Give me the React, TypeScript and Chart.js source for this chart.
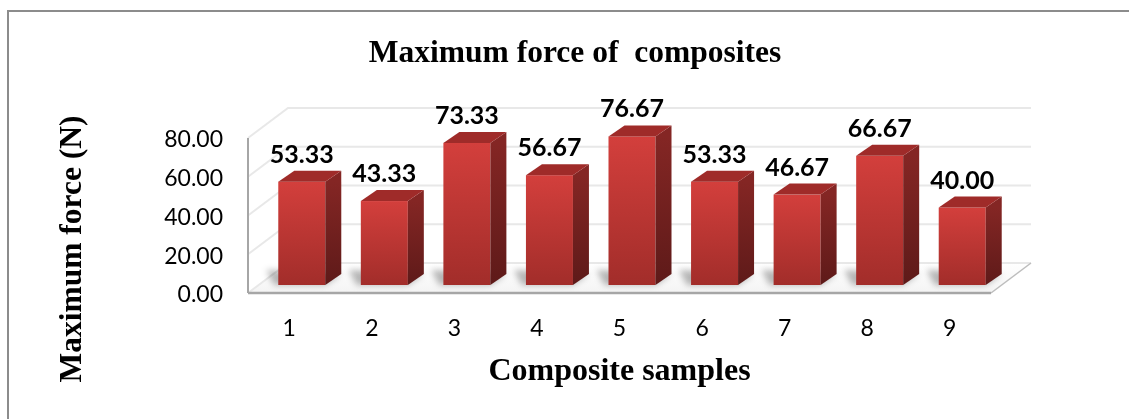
import React, { useEffect, useRef } from "react";
import { Chart, registerables } from "chart.js";

Chart.register(...registerables);

// ---- data ----
const categories = ["1", "2", "3", "4", "5", "6", "7", "8", "9"];
const maxForce = [53.33, 43.33, 73.33, 56.67, 76.67, 53.33, 46.67, 66.67, 40.0];
const yMin = 0;
const yMax = 80;
const yStep = 20;
const chartTitle = "Maximum force of  composites";
const xAxisTitle = "Composite samples";
const yAxisTitle = "Maximum force (N)";

// ---- 3D geometry (style) ----
const WALL_DX = 40;
const WALL_DY = -30;
const BAR_DX = 12.5;
const BAR_DY = -8;
const TOP_DX = 16;
const TOP_DY = -11;

const serif = '"Liberation Serif", "Times New Roman", serif';
const sans = 'Lato, "Open Sans", sans-serif';

const threeDPlugin = {
  id: "threeD",
  beforeDraw(chart: any) {
    const ctx = chart.ctx;
    ctx.save();
    ctx.fillStyle = "#ffffff";
    ctx.fillRect(0, 0, chart.width, chart.height);
    // outer frame (top and left edges)
    ctx.strokeStyle = "#8c8c8c";
    ctx.lineWidth = 2;
    ctx.beginPath();
    ctx.moveTo(8, chart.height);
    ctx.lineTo(8, 11);
    ctx.lineTo(chart.width, 11);
    ctx.stroke();
    ctx.restore();
  },
  beforeDatasetsDraw(chart: any) {
    const ctx = chart.ctx;
    const { left: L, right: R, top: T, bottom: B } = chart.chartArea;
    const ys = chart.scales.y;
    ctx.save();
    // floor
    ctx.beginPath();
    ctx.moveTo(L, B);
    ctx.lineTo(R, B);
    ctx.lineTo(R + WALL_DX, B + WALL_DY);
    ctx.lineTo(L + WALL_DX, B + WALL_DY);
    ctx.closePath();
    const fg = ctx.createLinearGradient(0, B + WALL_DY, 0, B);
    fg.addColorStop(0, "#ffffff");
    fg.addColorStop(1, "#f4f4f4");
    ctx.fillStyle = fg;
    ctx.fill();

    // gridlines on left and back walls
    ctx.strokeStyle = "#e8e8e8";
    ctx.lineWidth = 2;
    for (let v = yMin; v <= yMax; v += yStep) {
      const y = ys.getPixelForValue(v);
      ctx.beginPath();
      ctx.moveTo(L, y);
      ctx.lineTo(L + WALL_DX, y + WALL_DY);
      ctx.lineTo(R + WALL_DX, y + WALL_DY);
      ctx.stroke();
    }

    // bar shadows on floor
    const meta = chart.getDatasetMeta(0);
    ctx.save();
    ctx.filter = "blur(3px)";
    ctx.fillStyle = "rgba(0,0,0,0.28)";
    meta.data.forEach((el: any) => {
      const x0 = el.x - el.width / 2 + BAR_DX;
      const x1 = x0 + el.width;
      const yb = el.base + BAR_DY;
      ctx.beginPath();
      ctx.moveTo(x0 - 4, yb);
      ctx.lineTo(x1, yb);
      ctx.lineTo(x1 + TOP_DX, yb + TOP_DY);
      ctx.lineTo(x0 - 12, yb - 15);
      ctx.closePath();
      ctx.fill();
    });
    ctx.restore();

    // floor edges
    ctx.strokeStyle = "#bdbdbd";
    ctx.lineWidth = 1.5;
    ctx.beginPath();
    ctx.moveTo(R, B);
    ctx.lineTo(R + WALL_DX, B + WALL_DY);
    ctx.stroke();
    ctx.strokeStyle = "#a6a6a6";
    ctx.lineWidth = 2.5;
    ctx.beginPath();
    ctx.moveTo(L, B);
    ctx.lineTo(R, B);
    ctx.stroke();
    // left axis line
    ctx.strokeStyle = "#a6a6a6";
    ctx.lineWidth = 2;
    ctx.beginPath();
    ctx.moveTo(L, T);
    ctx.lineTo(L, B);
    ctx.stroke();
    ctx.restore();
  },
  afterDatasetsDraw(chart: any) {
    const ctx = chart.ctx;
    const meta = chart.getDatasetMeta(0);
    const values = chart.data.datasets[0].data;
    ctx.save();
    meta.data.forEach((el: any, i: number) => {
      const x0 = el.x - el.width / 2 + BAR_DX;
      const x1 = x0 + el.width;
      const yt = el.y + BAR_DY;
      const yb = el.base + BAR_DY;
      // front face
      const g = ctx.createLinearGradient(0, yt, 0, yb);
      g.addColorStop(0, "#d33f3c");
      g.addColorStop(1, "#a22d2a");
      ctx.fillStyle = g;
      ctx.fillRect(x0, yt, x1 - x0, yb - yt);
      // side face
      const s = ctx.createLinearGradient(0, yt, 0, yb);
      s.addColorStop(0, "#842624");
      s.addColorStop(1, "#5e1a19");
      ctx.fillStyle = s;
      ctx.beginPath();
      ctx.moveTo(x1, yt);
      ctx.lineTo(x1 + TOP_DX, yt + TOP_DY);
      ctx.lineTo(x1 + TOP_DX, yb + TOP_DY);
      ctx.lineTo(x1, yb);
      ctx.closePath();
      ctx.fill();
      // top face
      ctx.fillStyle = "#9f2b29";
      ctx.beginPath();
      ctx.moveTo(x0, yt);
      ctx.lineTo(x1, yt);
      ctx.lineTo(x1 + TOP_DX, yt + TOP_DY);
      ctx.lineTo(x0 + TOP_DX, yt + TOP_DY);
      ctx.closePath();
      ctx.fill();
      // value label
      ctx.fillStyle = "#000000";
      ctx.font = `bold 25px ${sans}`;
      ctx.textAlign = "center";
      ctx.textBaseline = "alphabetic";
      ctx.fillText(Number(values[i]).toFixed(2), (x0 + x1) / 2, yt - 19);
    });
    ctx.restore();
  },
  afterDraw(chart: any) {
    const ctx = chart.ctx;
    ctx.save();
    ctx.translate(81, 249);
    ctx.rotate(-Math.PI / 2);
    ctx.fillStyle = "#000000";
    ctx.font = `bold 31.5px ${serif}`;
    ctx.textAlign = "center";
    ctx.textBaseline = "alphabetic";
    ctx.fillText(yAxisTitle, 0, 0);
    ctx.restore();
  },
};

export default function App() {
  const canvasRef = useRef<HTMLCanvasElement | null>(null);

  useEffect(() => {
    if (!canvasRef.current) return;
    const chart = new Chart(canvasRef.current, {
      type: "bar",
      data: {
        labels: categories,
        datasets: [
          {
            label: yAxisTitle,
            data: maxForce,
            backgroundColor: "rgba(0,0,0,0)",
            borderWidth: 0,
            barThickness: 47,
          },
        ],
      },
      options: {
        animation: false,
        responsive: false,
        layout: { padding: { left: 159, right: 138, top: 0, bottom: 0 } },
        plugins: {
          legend: { display: false },
          tooltip: { enabled: false },
          title: {
            display: true,
            text: chartTitle,
            color: "#000000",
            font: { family: serif, size: 31.5, weight: "bold" },
            padding: { top: 34.5, bottom: 65.7 },
          },
        },
        scales: {
          x: {
            grid: { display: false, drawTicks: false },
            border: { display: false },
            ticks: {
              color: "#000000",
              font: { family: sans, size: 23 },
              padding: 21.5,
            },
            title: {
              display: true,
              text: xAxisTitle,
              color: "#000000",
              font: { family: serif, size: 32, weight: "bold" },
              padding: { top: 0, bottom: 28 },
            },
            afterFit: (scale: any) => {
              scale.height = 126;
            },
          },
          y: {
            min: yMin,
            max: yMax,
            grid: { display: false, drawTicks: false },
            border: { display: false },
            ticks: {
              stepSize: yStep,
              color: "#000000",
              font: { family: sans, size: 23 },
              padding: 25,
              labelOffset: 2,
              callback: (v: any) => Number(v).toFixed(2),
            },
            afterFit: (scale: any) => {
              scale.width = 89;
            },
          },
        },
      },
      plugins: [threeDPlugin],
    } as any);
    return () => chart.destroy();
  }, []);

  return (
    <div style={{ position: "absolute", left: 0, top: 0, width: 1129, height: 419 }}>
      <canvas ref={canvasRef} width={1129} height={419} />
    </div>
  );
}
